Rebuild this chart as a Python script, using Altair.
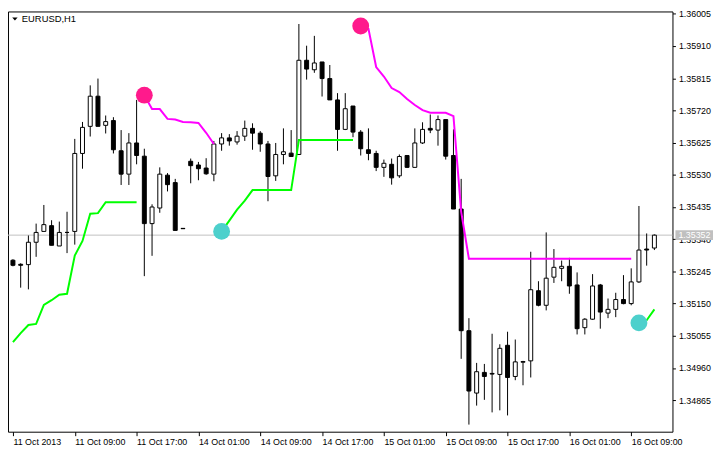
import altair as alt
import pandas as pd

# ---------------- data ----------------
x_tick_bars = [0, 8, 16, 24, 32, 40, 48, 56, 64, 72, 80]
x_tick_labels = ["11 Oct 2013", "11 Oct 09:00", "11 Oct 17:00", "14 Oct 01:00",
                 "14 Oct 09:00", "14 Oct 17:00", "15 Oct 01:00", "15 Oct 09:00",
                 "15 Oct 17:00", "16 Oct 01:00", "16 Oct 09:00"]
y_ticks = [1.36005, 1.35910, 1.35815, 1.35720, 1.35625, 1.35530, 1.35435,
           1.35340, 1.35245, 1.35150, 1.35055, 1.34960, 1.34865]
last_price = 1.35352
symbol_title = "EURUSD,H1"

opens = [1.35278, 1.35266, 1.35265, 1.35331, 1.35363, 1.35380, 1.35320, 1.35360, 1.35363, 1.35593,
         1.35673, 1.35762, 1.35676, 1.35690, 1.35601, 1.35532, 1.35624, 1.35585, 1.35386, 1.35432,
         1.35529, 1.35507, 1.35372, 1.35570, 1.35559, 1.35550, 1.35532, 1.35621, 1.35639, 1.35627,
         1.35644, 1.35667, 1.35653, 1.35621, 1.35527, 1.35590, 1.35594, 1.35590, 1.35868, 1.35840,
         1.35863, 1.35814, 1.35751, 1.35664, 1.35733, 1.35656, 1.35604, 1.35593, 1.35552, 1.35561,
         1.35527, 1.35587, 1.35552, 1.35624, 1.35667, 1.35662, 1.35693, 1.35587, 1.35429, 1.35070,
         1.34886, 1.34947, 1.34944, 1.34941, 1.35027, 1.34935, 1.34977, 1.34981, 1.35188, 1.35145,
         1.35228, 1.35254, 1.35260, 1.35205, 1.35079, 1.35104, 1.35205, 1.35122, 1.35133, 1.35162,
         1.35150, 1.35214, 1.35311, 1.35314]
highs = [1.35281, 1.35269, 1.35351, 1.35386, 1.35441, 1.35396, 1.35392, 1.35421, 1.35636, 1.35686,
         1.35794, 1.35814, 1.35705, 1.35700, 1.35662, 1.35653, 1.35751, 1.35607, 1.35443, 1.35552,
         1.35535, 1.35518, 1.35372, 1.35578, 1.35568, 1.35579, 1.35630, 1.35653, 1.35650, 1.35659,
         1.35690, 1.35682, 1.35659, 1.35630, 1.35624, 1.35667, 1.35662, 1.35975, 1.35911, 1.35940,
         1.35863, 1.35854, 1.35771, 1.35771, 1.35733, 1.35662, 1.35667, 1.35601, 1.35575, 1.35578,
         1.35590, 1.35587, 1.35667, 1.35685, 1.35708, 1.35705, 1.35693, 1.35664, 1.35518, 1.35107,
         1.34975, 1.34972, 1.35061, 1.35030, 1.35067, 1.35044, 1.34981, 1.35303, 1.35216, 1.35360,
         1.35311, 1.35277, 1.35285, 1.35242, 1.35107, 1.35237, 1.35208, 1.35165, 1.35182, 1.35234,
         1.35254, 1.35438, 1.35357, 1.35354]
lows = [1.35260, 1.35197, 1.35192, 1.35288, 1.35363, 1.35322, 1.35320, 1.35299, 1.35324, 1.35548,
        1.35643, 1.35673, 1.35652, 1.35593, 1.35500, 1.35500, 1.35561, 1.35231, 1.35291, 1.35418,
        1.35481, 1.35366, 1.35371, 1.35505, 1.35514, 1.35530, 1.35511, 1.35601, 1.35616, 1.35619,
        1.35630, 1.35604, 1.35598, 1.35452, 1.35512, 1.35561, 1.35584, 1.35590, 1.35811, 1.35831,
        1.35761, 1.35751, 1.35601, 1.35662, 1.35641, 1.35587, 1.35573, 1.35541, 1.35524, 1.35501,
        1.35521, 1.35550, 1.35552, 1.35621, 1.35653, 1.35616, 1.35575, 1.35429, 1.34987, 1.34793,
        1.34849, 1.34866, 1.34829, 1.34835, 1.34820, 1.34924, 1.34909, 1.34932, 1.35142, 1.35130,
        1.35211, 1.35216, 1.35179, 1.35059, 1.35059, 1.35102, 1.35076, 1.35107, 1.35110, 1.35148,
        1.35145, 1.35211, 1.35262, 1.35308]
closes = [1.35263, 1.35263, 1.35331, 1.35360, 1.35383, 1.35322, 1.35360, 1.35360, 1.35593, 1.35670,
          1.35762, 1.35673, 1.35687, 1.35604, 1.35532, 1.35624, 1.35587, 1.35386, 1.35435, 1.35532,
          1.35501, 1.35366, 1.35371, 1.35557, 1.35548, 1.35533, 1.35621, 1.35639, 1.35630, 1.35644,
          1.35667, 1.35653, 1.35621, 1.35525, 1.35590, 1.35598, 1.35584, 1.35868, 1.35842, 1.35860,
          1.35814, 1.35751, 1.35664, 1.35725, 1.35656, 1.35607, 1.35593, 1.35552, 1.35564, 1.35521,
          1.35584, 1.35552, 1.35624, 1.35664, 1.35662, 1.35693, 1.35585, 1.35429, 1.35070, 1.34892,
          1.34949, 1.34935, 1.34942, 1.35018, 1.34932, 1.34978, 1.34979, 1.35191, 1.35145, 1.35225,
          1.35257, 1.35260, 1.35202, 1.35076, 1.35104, 1.35202, 1.35125, 1.35133, 1.35162, 1.35150,
          1.35214, 1.35308, 1.35308, 1.35352]

# support (green) segments: start bar + values
support_starts = [0, 27, 81]
support_seg1 = [1.35036, 1.35063, 1.35087, 1.35090, 1.35146, 1.35160, 1.35176, 1.35179, 1.35292,
                1.35335, 1.35415, 1.35417, 1.35449, 1.35449, 1.35449, 1.35449, 1.35449]
support_seg2 = [1.35363, 1.35395, 1.35427, 1.35454, 1.35485, 1.35485, 1.35485, 1.35485, 1.35485,
                1.35485, 1.35633, 1.35633, 1.35633, 1.35633, 1.35633, 1.35633, 1.35633, 1.35633]
support_seg3 = [1.35093, 1.35101, 1.35133]

# resistance (magenta) segments
resist_starts = [17, 45]
resist_seg1 = [1.35765, 1.35724, 1.35724, 1.35695, 1.35693, 1.35686, 1.35685, 1.35683, 1.35654, 1.35621]
resist_seg2 = [1.35969, 1.35961, 1.35848, 1.35820, 1.35786, 1.35774, 1.35754, 1.35736, 1.35721,
               1.35713, 1.35713, 1.35713, 1.35703, 1.35421, 1.35282, 1.35282, 1.35282, 1.35282,
               1.35282, 1.35282, 1.35282, 1.35282, 1.35282, 1.35282, 1.35282, 1.35282, 1.35282,
               1.35282, 1.35282, 1.35282, 1.35282, 1.35282, 1.35282, 1.35282, 1.35282, 1.35282]

buy_bars = [27, 81]
buy_prices = [1.35363, 1.35093]
sell_bars = [17, 45]
sell_prices = [1.35765, 1.35969]

# ---------------- tables ----------------
bars = list(range(len(opens)))
candles = pd.DataFrame({"i": bars, "open": opens, "high": highs, "low": lows, "close": closes})


def segments(starts, series):
    rows = []
    for s, (start, vals) in enumerate(zip(starts, series)):
        for j, v in enumerate(vals):
            rows.append({"seg": s, "i": start + j, "v": v})
    return pd.DataFrame(rows)


support = segments(support_starts, [support_seg1, support_seg2, support_seg3])
resist = segments(resist_starts, [resist_seg1, resist_seg2])
buys = pd.DataFrame({"i": buy_bars, "v": buy_prices})
sells = pd.DataFrame({"i": sell_bars, "v": sell_prices})
last_df = pd.DataFrame({"v": [last_price]})
title_df = pd.DataFrame({"t": [symbol_title]})

FONT = "Liberation Sans"
label_array = "[" + ",".join("'" + s + "'" for s in x_tick_labels) + "]"

x_axis = alt.Axis(values=x_tick_bars, labelExpr=label_array + "[round(datum.value / 8)]",
                  labelAlign="left", labelBaseline="top", labelPadding=2, tickSize=4,
                  tickColor="black", labelColor="black", domain=False, grid=False,
                  labelFont=FONT, labelFontSize=9, title=None, labelOverlap=False)
y_axis = alt.Axis(orient="right", values=y_ticks, format=".5f", tickSize=3, labelPadding=3,
                  tickColor="black", labelColor="black", domain=False, grid=False,
                  labelFont=FONT, labelFontSize=9, title=None, labelOverlap=False)
xs = alt.Scale(domain=[0, 84.7], nice=False, zero=False)
ys = alt.Scale(domain=[1.34772, 1.36012], nice=False, zero=False)


def X(f="i"):
    return alt.X(f + ":Q", scale=xs, axis=x_axis)


def Y(f):
    return alt.Y(f + ":Q", scale=ys, axis=y_axis)


price_line = alt.Chart(last_df).mark_rule(color="#C0C0C0", strokeWidth=1).encode(y=Y("v"))

wicks = alt.Chart(candles).mark_rule(color="black", strokeWidth=1, clip=True).encode(
    x=X(), y=Y("low"), y2="high:Q")

bodies = alt.Chart(candles).mark_bar(size=4, stroke="black", strokeWidth=1, clip=True,
                                     orient="vertical").encode(
    x=X(), y=Y("open"), y2="close:Q",
    fill=alt.condition("datum.close > datum.open", alt.value("white"), alt.value("black")))

sup_lines = alt.Chart(support).mark_line(color="#00FF00", strokeWidth=2, clip=True).encode(
    x=X(), y=Y("v"), detail="seg:N")
res_lines = alt.Chart(resist).mark_line(color="#FF00FF", strokeWidth=2, clip=True).encode(
    x=X(), y=Y("v"), detail="seg:N")

buy_pts = alt.Chart(buys).mark_circle(size=290, opacity=1, color="#4DD0CC", clip=True).encode(
    x=X(), y=Y("v"))
sell_pts = alt.Chart(sells).mark_circle(size=290, opacity=1, color="#FF1A8C", clip=True).encode(
    x=X(), y=Y("v"))

price_box = alt.Chart(last_df).mark_rule(color="#C0C0C0", strokeWidth=10, clip=False).encode(
    x=alt.value(675), x2=alt.value(713), y=Y("v"))
price_text = alt.Chart(last_df).mark_text(align="left", baseline="middle", color="white",
                                          font=FONT, fontSize=9, clip=False).encode(
    x=alt.value(678), y=Y("v"), text=alt.Text("v:Q", format=".5f"))

tri = alt.Chart(title_df).mark_point(shape="M-1,-0.55L1,-0.55L0,0.6Z", filled=True, size=30,
                                     color="black", opacity=1).encode(
    x=alt.value(7), y=alt.value(7.5))
title_text = alt.Chart(title_df).mark_text(align="left", baseline="middle", color="black",
                                           font=FONT, fontSize=9.5).encode(
    x=alt.value(14), y=alt.value(8), text="t:N")

chart = alt.layer(price_line, wicks, bodies, sup_lines, res_lines, buy_pts, sell_pts,
                  price_box, price_text, tri, title_text).properties(
    width=672, height=425,
    autosize=alt.AutoSizeParams(type="none"),
    padding={"left": 0, "top": 1, "right": 42, "bottom": 16},
    background="white",
).configure_view(stroke="black", strokeWidth=1)

chart.save("out.html", embed_options={"renderer": "svg", "actions": False})
